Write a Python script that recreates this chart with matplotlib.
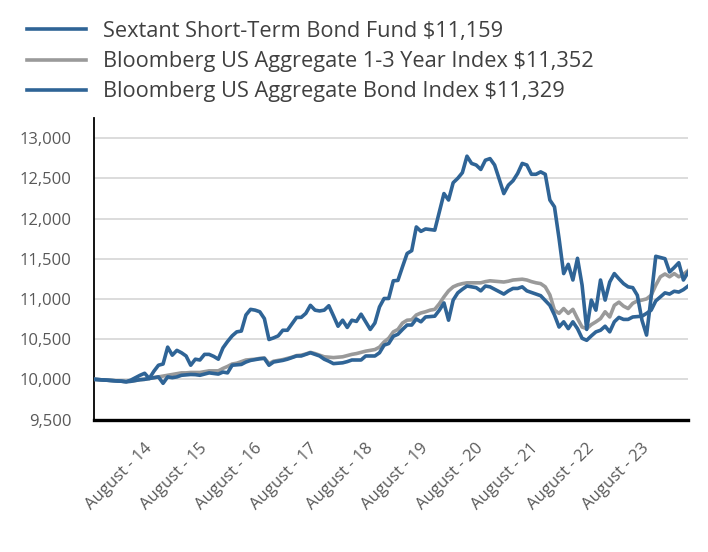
import matplotlib
matplotlib.use("Agg")
import matplotlib.pyplot as plt
from matplotlib.ticker import FuncFormatter

plt.rcParams["font.family"] = ["Open Sans", "DejaVu Sans"]

# growth of $10,000, monthly values
fund_values = [
    10000, 9996, 9992, 9988, 9984, 9980, 9976, 9970, 9975, 9985,
    9995, 10000, 10010, 10020, 10030, 9950, 10030, 10020, 10030, 10050,
    10055, 10060, 10058, 10050, 10065, 10080, 10072, 10065, 10090, 10080,
    10175, 10180, 10185, 10215, 10235, 10245, 10255, 10260, 10175, 10215,
    10225, 10235, 10250, 10270, 10290, 10290, 10310, 10330, 10310, 10290,
    10250, 10225, 10195, 10200, 10205, 10220, 10240, 10240, 10240, 10290,
    10290, 10290, 10330, 10425, 10445, 10535, 10560, 10620, 10675, 10675,
    10750, 10715, 10775, 10780, 10785, 10860, 10950, 10735, 10985, 11075,
    11120, 11160, 11150, 11140, 11100, 11160, 11150, 11120, 11090, 11060,
    11100, 11130, 11130, 11150, 11100, 11080, 11060, 11040, 10980, 10920,
    10800, 10650, 10715, 10630, 10715, 10630, 10510, 10485, 10540, 10590,
    10610, 10660, 10590, 10715, 10770, 10745, 10745, 10775, 10780, 10785,
    10820, 10860, 10975, 11025, 11075, 11060, 11095, 11085, 11115, 11159,
]
short_index_values = [
    10000, 9996, 9992, 9988, 9984, 9980, 9976, 9972, 9976, 9985,
    9995, 10000, 10010, 10020, 10030, 10040, 10050, 10060, 10070, 10080,
    10080, 10085, 10085, 10085, 10095, 10105, 10105, 10105, 10135, 10160,
    10190, 10200, 10220, 10240, 10245, 10250, 10260, 10265, 10195, 10225,
    10235, 10245, 10260, 10275, 10295, 10300, 10315, 10335, 10320, 10300,
    10280, 10275, 10270, 10275, 10280, 10295, 10310, 10320, 10335, 10350,
    10360, 10370, 10400, 10465, 10510, 10590, 10620, 10700, 10735, 10740,
    10800, 10825, 10840, 10860, 10870, 10940, 11025, 11100, 11150, 11175,
    11190, 11200, 11200, 11200, 11200, 11215, 11225, 11220, 11215, 11210,
    11220, 11235, 11240, 11245, 11235, 11215, 11200, 11190, 11150, 11050,
    10860, 10820, 10880, 10820, 10870, 10755, 10650, 10630, 10680, 10715,
    10755, 10840, 10775, 10920, 10960, 10910, 10880, 10945, 10975, 10985,
    11000, 11045, 11170, 11275, 11310, 11275, 11315, 11275, 11305, 11352,
]
agg_index_values = [
    10000, 9996, 9992, 9988, 9984, 9980, 9976, 9970, 9990, 10020,
    10050, 10075, 10010, 10100, 10175, 10190, 10400, 10300, 10360, 10330,
    10290, 10175, 10250, 10240, 10310, 10310, 10285, 10250, 10390, 10470,
    10540, 10590, 10600, 10800, 10870, 10860, 10840, 10755, 10495, 10515,
    10540, 10610, 10610, 10690, 10770, 10770, 10820, 10920, 10860, 10850,
    10860, 10915, 10790, 10660, 10735, 10645, 10735, 10720, 10810, 10715,
    10620, 10700, 10900, 11005, 11005, 11225, 11230, 11400, 11565, 11600,
    11895, 11840, 11870, 11862, 11855, 12080, 12310, 12230, 12445, 12500,
    12570, 12775, 12685, 12665, 12610, 12725, 12745, 12665, 12490, 12310,
    12415, 12470, 12560, 12685, 12665, 12550, 12550, 12580, 12550, 12230,
    12145, 11750, 11315, 11430, 11235, 11505, 11170, 10620, 10985, 10860,
    11235, 10985, 11210, 11315, 11250, 11190, 11150, 11140, 11045, 10735,
    10550, 11025, 11530, 11515, 11500, 11335, 11390, 11450, 11235, 11329,
]
series_labels = [
    "Sextant Short-Term Bond Fund $11,159",
    "Bloomberg US Aggregate 1-3 Year Index $11,352",
    "Bloomberg US Aggregate Bond Index $11,329",
]
tick_labels = ["August - 14", "August - 15", "August - 16", "August - 17", "August - 18",
               "August - 19", "August - 20", "August - 21", "August - 22", "August - 23"]
y_ticks = [9500, 10000, 10500, 11000, 11500, 12000, 12500, 13000]

BLUE = "#2f6496"
GRAY = "#9a9a9a"

fig = plt.figure(figsize=(7.08, 5.52), dpi=100)
ax = fig.add_axes([94 / 708, 1 - 419.5 / 552, (688 - 94) / 708, (419.5 - 118) / 552])

months = list(range(len(fund_values)))
l_gray, = ax.plot(months, short_index_values, color=GRAY, lw=2.6, zorder=3)
l_fund, = ax.plot(months, fund_values, color=BLUE, lw=2.6, zorder=4)
l_agg, = ax.plot(months, agg_index_values, color=BLUE, lw=2.6, zorder=5)

ax.set_xlim(0, len(fund_values) - 1)
ax.set_ylim(9500, 13250)
ax.set_yticks(y_ticks)
ax.yaxis.set_major_formatter(FuncFormatter(lambda v, p: f"{v:,.0f}"))
ax.set_xticks([10.8 + 12 * i for i in range(len(tick_labels))])
ax.set_xticklabels(tick_labels, rotation=45, ha="right", va="top", rotation_mode="anchor")

ax.yaxis.grid(True, color="#d9d9d9", lw=1.3)
ax.set_axisbelow(True)
for side in ["top", "right"]:
    ax.spines[side].set_visible(False)
ax.spines["bottom"].set_linewidth(2.4)
ax.spines["left"].set_linewidth(1.3)
ax.tick_params(axis="y", length=0, pad=16, labelsize=12, labelcolor="#595959")
ax.tick_params(axis="x", length=0, pad=15, labelsize=12, labelcolor="#595959")

fig.legend([l_fund, l_gray, l_agg], series_labels, loc="upper left",
           bbox_to_anchor=(27 / 708, 1 - 21 / 552), frameon=False, fontsize=15.7,
           handlelength=2.7, handletextpad=0.8, labelspacing=0.42,
           borderpad=0, borderaxespad=0, labelcolor="#404040")

fig.savefig("out.png", dpi=100)
